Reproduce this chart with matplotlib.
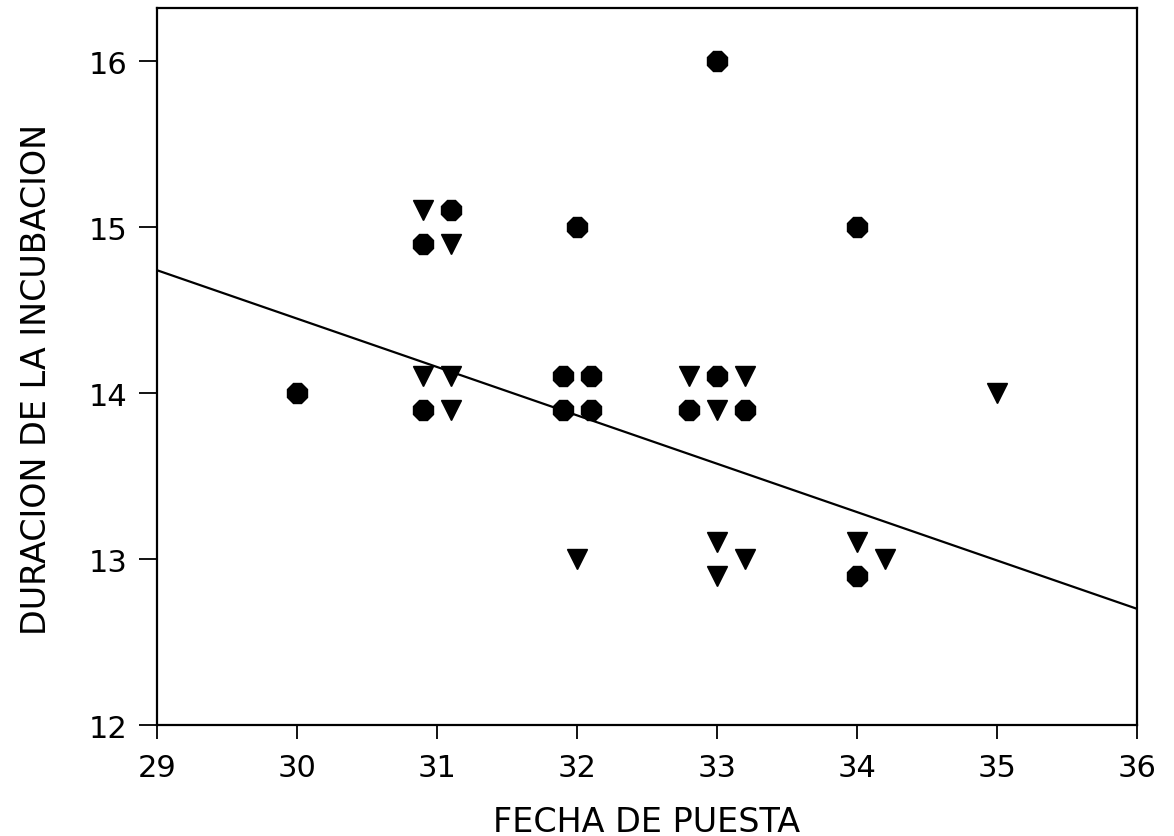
import matplotlib
matplotlib.use("Agg")
import matplotlib.pyplot as plt


# =========================================================
# DATA
# =========================================================

# circles
circle_x = [30.0, 31.1, 30.9, 30.9, 32.0, 31.9, 32.1, 31.9, 32.1,
            33.0, 33.0, 32.8, 33.2, 34.0, 34.0]
circle_y = [14.0, 15.1, 14.9, 13.9, 15.0, 14.1, 14.1, 13.9, 13.9,
            16.0, 14.1, 13.9, 13.9, 15.0, 12.9]

# triangles
tri_x = [30.9, 31.1, 30.9, 31.1, 31.1, 32.0, 32.8, 33.2, 33.0,
         33.0, 33.2, 33.0, 34.0, 34.2, 35.0]
tri_y = [15.1, 14.9, 14.1, 14.1, 13.9, 13.0, 14.1, 14.1, 13.9,
         13.1, 13.0, 12.9, 13.1, 13.0, 14.0]

# regression line end points
line_x = [29.0, 36.0]
line_y = [14.74, 12.70]

x_ticks = [29, 30, 31, 32, 33, 34, 35, 36]
y_ticks = [12, 13, 14, 15, 16]


# =========================================================
# PLOT
# =========================================================

plt.rcParams["font.family"] = ["DejaVu Sans"]

fig = plt.figure(figsize=(11.74, 8.37), dpi=100)
ax = fig.add_axes([0.1337, 0.1326, 0.8348, 0.8567])

ax.plot(line_x, line_y, color="black", lw=1.6)

ax.plot(circle_x, circle_y, linestyle="none", marker="8",
        markersize=15, color="black")
ax.plot(tri_x, tri_y, linestyle="none", marker="v",
        markersize=14, color="black")

ax.set_xlim(29, 36)
ax.set_ylim(12, 16.32)
ax.set_xticks(x_ticks)
ax.set_yticks(y_ticks)

for side in ["left", "right", "top", "bottom"]:
    ax.spines[side].set_linewidth(1.6)

ax.tick_params(axis="x", direction="out", length=10, width=1.3,
               labelsize=22, pad=10)
ax.tick_params(axis="y", direction="out", length=13, width=1.3,
               labelsize=22, pad=8)

ax.set_xlabel("FECHA DE PUESTA", fontsize=24)
ax.set_ylabel("DURACION DE LA INCUBACION", fontsize=24)
ax.xaxis.set_label_coords(0.5, -0.112)
ax.yaxis.set_label_coords(-0.106, 0.483)

fig.savefig("out.png", dpi=100)
